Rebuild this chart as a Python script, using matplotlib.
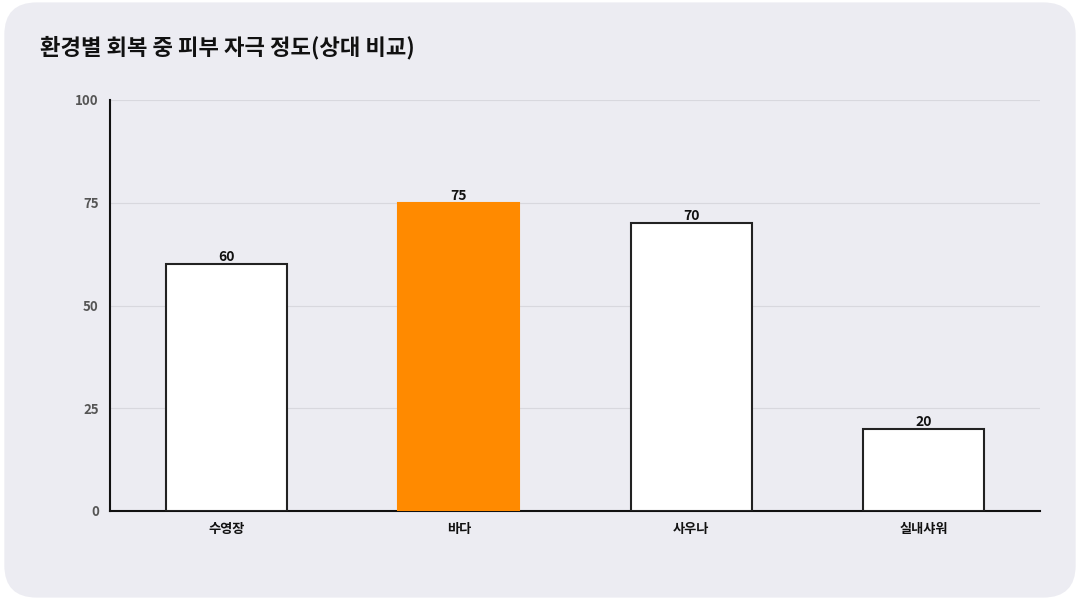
import matplotlib
matplotlib.use("Agg")
import matplotlib.pyplot as plt
from matplotlib.patches import FancyBboxPatch

plt.rcParams['font.family'] = ['Noto Sans CJK KR', 'DejaVu Sans']

title = "환경별 회복 중 피부 자극 정도(상대 비교)"
categories = ["수영장", "바다", "사우나", "실내샤워"]
values = [60, 75, 70, 20]
highlight = "바다"
yticks = [0, 25, 50, 75, 100]

fig = plt.figure(figsize=(10.8, 6), dpi=100, facecolor="white")
bg = FancyBboxPatch((0.004, 0.004), 0.992, 0.992, boxstyle="round,pad=0,rounding_size=0.03",
                    transform=fig.transFigure, facecolor="#ECECF2", edgecolor="none", zorder=-10,
                    mutation_aspect=1.8)
fig.patches.append(bg)

ax = fig.add_axes([110/1080, 1-511/600, 930/1080, 411/600])
ax.set_facecolor("#ECECF2")
for c, v in zip(categories, values):
    if c == highlight:
        ax.bar(c, v, width=0.52, color="#FF8A00", edgecolor="#FF8A00", linewidth=1.5, zorder=3)
    else:
        ax.bar(c, v, width=0.52, color="white", edgecolor="#222222", linewidth=1.5, zorder=3)
    ax.text(c, v, str(v), ha="center", va="bottom", fontsize=10, fontweight="bold", color="#111111", zorder=4)

ax.set_xlim(-0.5, 3.5)
ax.set_ylim(0, 100)
ax.set_yticks(yticks)
ax.grid(axis="y", color="#D8D8DE", linewidth=0.8, zorder=0)
for s in ["top", "right"]:
    ax.spines[s].set_visible(False)
ax.spines["left"].set_color("#111111")
ax.spines["bottom"].set_color("#111111")
ax.spines["left"].set_linewidth(1.5)
ax.spines["bottom"].set_linewidth(1.5)
ax.tick_params(axis="y", length=0, pad=8, labelsize=9.5, labelcolor="#555555")
ax.tick_params(axis="x", length=0, pad=8, labelsize=9.5, labelcolor="#111111")
for t in ax.get_yticklabels():
    t.set_fontweight("bold")
for t in ax.get_xticklabels():
    t.set_fontweight("bold")

fig.text(40/1080, 1-48/600, title, fontsize=16, fontweight="bold", color="#111111", va="center", ha="left")
fig.savefig("out.png", dpi=100, facecolor="white")
